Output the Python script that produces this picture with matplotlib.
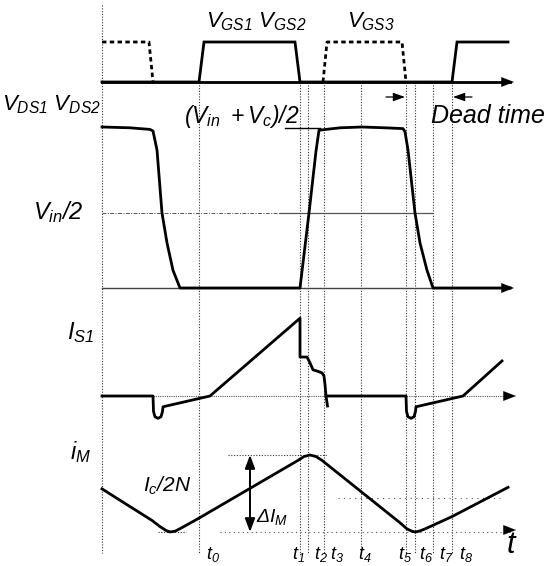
import numpy as np
import matplotlib
matplotlib.use("Agg")
import matplotlib.pyplot as plt

plt.rcParams['font.family'] = ['Liberation Sans', 'DejaVu Sans']
plt.rcParams['mathtext.fontset'] = 'custom'
plt.rcParams['mathtext.it'] = 'Liberation Sans:italic'
plt.rcParams['mathtext.rm'] = 'Liberation Sans:italic'
plt.rcParams['mathtext.sf'] = 'Liberation Sans:italic'

# ---------------- data ----------------
start_time = 102
end_time = 508
event_times = [199, 300, 308, 324, 361, 406, 415, 433, 452]
time_labels = [r'$t_0$', r'$t_1$', r'$t_2$', r'$t_3$', r'$t_4$', r'$t_5$', r'$t_6$', r'$t_7$', r'$t_8$']

# gate signals (normalised 0..1)
vgs1_t = [102, 199, 204, 295, 300, 452, 457, 508]
vgs1_v = [0, 0, 1, 1, 0, 0, 1, 1]
vgs3a_t = [102, 149, 153]
vgs3a_v = [1, 1, 0]
vgs3b_t = [323, 327, 402, 406]
vgs3b_v = [0, 1, 1, 0]

# drain-source voltage (normalised, 1 = (Vin+Vc)/2)
vds_t = [102, 130, 150, 153, 157, 162, 167, 173, 180, 300, 309, 316, 319,
         340, 362, 385, 403, 405, 408, 415, 420, 427, 433, 510]
vds_v = [1.0, 0.995, 0.985, 0.975, 0.857, 0.466, 0.28, 0.11, 0.0, 0.0, 0.466, 0.85, 0.98,
         0.995, 1.0, 0.995, 0.99, 0.97, 0.857, 0.466, 0.28, 0.11, 0.0, 0.0]
vin_half = 0.466

# switch current (normalised, 1 = peak)
is1_t = [102, 153, 153.5, 155, 158, 161, 162.5, 163, 210, 300, 300, 307, 310, 313, 318, 322, 324, 325, 326, 327.5]
is1_v = [0, 0, -0.2, -0.27, -0.29, -0.27, -0.2, -0.14, 0.0, 1.01, 0.506, 0.506, 0.43, 0.34, 0.32, 0.30, 0.26, 0.15, 0.0, -0.13]
is1b_t = [326, 406, 406.5, 408, 411, 414, 415.5, 416, 463, 502]
is1b_v = [0, 0, -0.2, -0.27, -0.29, -0.27, -0.2, -0.14, 0.0, 0.455]

# magnetizing current (normalised, 0 = min, 1 = max)
im_t = [102, 152, 160, 166, 170, 175, 181, 199, 298, 304, 310, 316, 322, 400, 407, 412, 415, 419, 425, 452, 508]
im_v = [0.56, 0.15, 0.07, 0.02, 0.0, 0.01, 0.05, 0.18, 0.93, 0.98, 1.0, 0.98, 0.93, 0.12, 0.04, 0.01, 0.0, 0.01, 0.04, 0.2, 0.58]
im_mid = 0.44

# ---------------- layout ----------------
W, H = 559, 566
fig = plt.figure(figsize=(W / 100, H / 100), dpi=100)
ax = fig.add_axes([0, 0, 1, 1])
ax.set_xlim(0, W)
ax.set_ylim(H, 0)
ax.axis('off')

panels = {
    'gate': (82, 40),
    'vds': (288, 161),
    'is': (396, 77),
    'im': (532, 77),
}
label_x = [213, 298, 321, 337, 365, 405, 426, 446, 466]


def Y(panel, v):
    base, h = panels[panel]
    return base - h * np.asarray(v, dtype=float)


LW = 2.0
K = 'black'
GRID = dict(color='#333333', lw=0.8, ls=(0, (1, 1.5)))

# vertical guide lines
ax.plot([start_time, start_time], [5, 553], **GRID)
for t in event_times:
    ax.plot([t, t], [Y('gate', 0), 553], **GRID)


def arrow_head(x, y, direction=1, size=9):
    ax.annotate('', xy=(x + direction * 2, y), xytext=(x - direction * size, y),
                arrowprops=dict(arrowstyle='-|>,head_length=0.9,head_width=0.35',
                                color=K, lw=0.1, shrinkA=0, shrinkB=0))


# ---- gate panel ----
ax.plot([start_time, 510], [Y('gate', 0)] * 2, color=K, lw=LW)
arrow_head(512, Y('gate', 0))
ax.plot(vgs1_t, Y('gate', vgs1_v), color=K, lw=LW, solid_joinstyle='miter')
ax.plot(vgs3a_t, Y('gate', vgs3a_v), color=K, lw=LW, ls=(0, (1.6, 1.2)))
ax.plot(vgs3b_t, Y('gate', vgs3b_v), color=K, lw=LW, ls=(0, (1.6, 1.2)))
ax.text(206, 22, r'$V_{GS1}\ V_{GS2}$', fontsize=16, va='center', ha='left')
ax.text(347, 22, r'$V_{GS3}$', fontsize=16, va='center', ha='left')

# dead-time arrows
ax.annotate('', xy=(405, 97), xytext=(386, 97),
            arrowprops=dict(arrowstyle='-|>,head_length=0.7,head_width=0.25', color=K, lw=0.9,
                            shrinkA=0, shrinkB=0))
ax.annotate('', xy=(453, 97), xytext=(472, 97),
            arrowprops=dict(arrowstyle='-|>,head_length=0.7,head_width=0.25', color=K, lw=0.9,
                            shrinkA=0, shrinkB=0))
ax.text(431, 116, 'Dead time', fontsize=18, style='italic', va='center', ha='left')

# ---- VDS panel ----
ax.plot([start_time, 510], [Y('vds', 0)] * 2, color='#444444', lw=1.0)
arrow_head(512, Y('vds', 0))
ax.plot([start_time, 280], [Y('vds', vin_half)] * 2, color='#555555', lw=0.7, ls=(0, (4, 1.5, 1, 1.5)))
ax.plot([280, 432], [Y('vds', vin_half)] * 2, color='#555555', lw=0.9)
ax.plot([285, 320], [Y('vds', 1.0) + 1] * 2, color=K, lw=1.0)
ax.plot(vds_t, Y('vds', vds_v), color=K, lw=LW)
ax.text(2, 105, r'$V_{DS1}\ V_{DS2}$', fontsize=16, va='center', ha='left')
ax.text(33, 212, r'$V_{in}/2$', fontsize=17, va='center', ha='left')
ax.text(184, 116, r'$(V_{in}\ +V_c)/2$', fontsize=16.5, va='center', ha='left')

# ---- IS1 panel ----
ax.plot([start_time, 510], [Y('is', 0)] * 2, color='#555555', lw=0.8, ls=(0, (1, 1)))
arrow_head(514, Y('is', 0))
ax.plot(is1_t, Y('is', is1_v), color=K, lw=LW)
ax.plot(is1b_t, Y('is', is1b_v), color=K, lw=LW)
ax.text(67, 333, r'$I_{S1}$', fontsize=17, va='center', ha='left')

# ---- iM panel ----
ax.plot([228, 328], [Y('im', 1)] * 2, **GRID)
ax.plot([158, 186], [Y('im', 0)] * 2, **GRID)
ax.plot([220, 510], [Y('im', 0)] * 2, color='#555555', lw=0.8, ls=(0, (1, 3)))
arrow_head(514, Y('im', 0) - 2)
ax.plot([338, 500], [Y('im', im_mid)] * 2, color='#555555', lw=0.8, ls=(0, (1, 4)))
ax.plot(im_t, Y('im', im_v), color=K, lw=LW)
ax.annotate('', xy=(250, Y('im', 1)), xytext=(250, Y('im', 0)),
            arrowprops=dict(arrowstyle='<|-|>,head_length=0.8,head_width=0.3', color=K, lw=1.4,
                            shrinkA=0, shrinkB=0))
ax.text(256, 517, r'$\Delta I_M$', fontsize=14, va='center', ha='left')
ax.text(143, 486, r'$I_c/2N$', fontsize=15, va='center', ha='left')
ax.text(70, 452, r'$i_M$', fontsize=17, va='center', ha='left')
ax.text(506, 545, r'$t$', fontsize=22, va='center', ha='left')

for lx, lab in zip(label_x, time_labels):
    ax.text(lx, 564, lab, fontsize=13, va='bottom', ha='center')

fig.savefig('out.png', dpi=100)
